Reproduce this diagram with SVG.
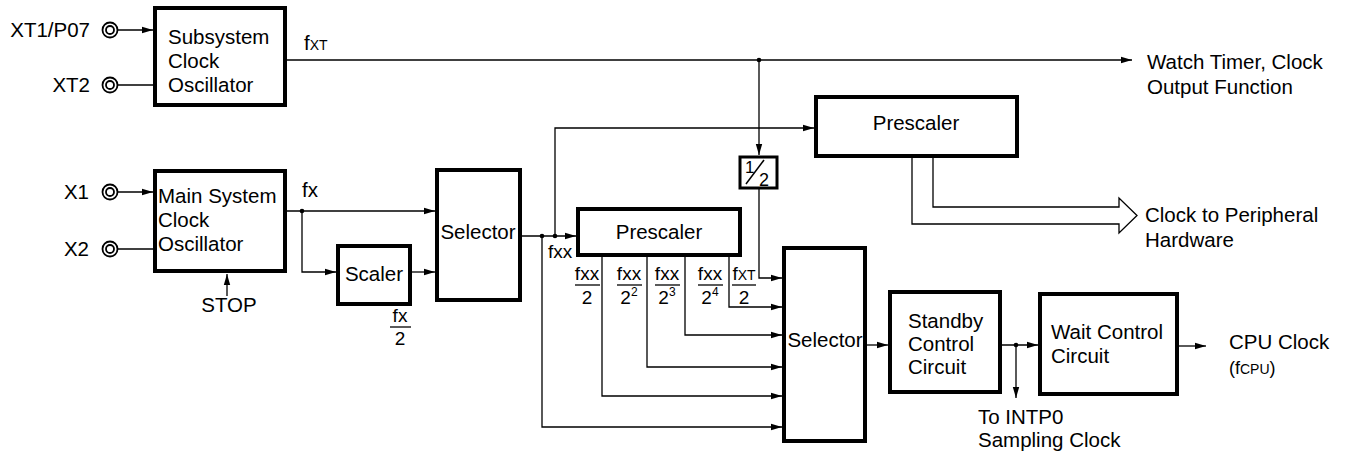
<svg xmlns="http://www.w3.org/2000/svg" width="1347" height="458" viewBox="0 0 1347 458">
<defs>
<marker id="ah" markerUnits="userSpaceOnUse" markerWidth="12" markerHeight="8" refX="11" refY="4" orient="auto">
<path d="M0,0.8 L11,4 L0,7.2 Z" fill="#000"/>
</marker>
<style>
text{font-family:"Liberation Sans",Arial,Helvetica,sans-serif;font-size:20.5px;fill:#000}
.box{fill:#fff;stroke:#000;stroke-width:4}
.ln{fill:none;stroke:#000;stroke-width:1.3}
.ar{marker-end:url(#ah)}
.pin{fill:#fff;stroke:#000;stroke-width:1.8}
.fr{font-size:19px}
.sm{font-size:14px}
.sup{font-size:12px}
.c{text-anchor:middle}
.r{text-anchor:end}
</style>
</defs>
<rect width="1347" height="458" fill="#fff"/>

<g id="pins">
<circle class="pin" cx="110" cy="30" r="7.5"/><circle class="pin" cx="110" cy="30" r="4"/>
<circle class="pin" cx="110" cy="85" r="7.5"/><circle class="pin" cx="110" cy="85" r="4"/>
<circle class="pin" cx="110" cy="192" r="7.5"/><circle class="pin" cx="110" cy="192" r="4"/>
<circle class="pin" cx="110" cy="249" r="7.5"/><circle class="pin" cx="110" cy="249" r="4"/>
<text class="r" x="90" y="37">XT1/P07</text>
<text class="r" x="90" y="92">XT2</text>
<text class="r" x="89" y="199">X1</text>
<text class="r" x="89" y="256">X2</text>
</g>

<g id="connectors">
<path class="ln ar" d="M118,30 H153"/>
<path class="ln" d="M118,85 H155"/>
<path class="ln ar" d="M118,192 H153"/>
<path class="ln" d="M118,249 H155"/>
<path class="ln ar" d="M227,296 V274"/>
<path class="ln ar" d="M287,60 H1132"/>
<path class="ln ar" d="M759,60 V155"/>
<path class="ln ar" d="M759,188 V278 H782"/>
<path class="ln ar" d="M287,211 H435"/>
<path class="ln ar" d="M302,211 V272 H336"/>
<path class="ln ar" d="M410,272 H435"/>
<path class="ln ar" d="M520,236 H576"/>
<path class="ln ar" d="M555,236 V128 H814"/>
<path class="ln ar" d="M542,236 V427 H782"/>
<path class="ln ar" d="M602,255 V396 H782"/>
<path class="ln ar" d="M647,255 V367 H782"/>
<path class="ln ar" d="M685,255 V335 H782"/>
<path class="ln ar" d="M729,255 V307 H782"/>
<path class="ln ar" d="M865,345 H888"/>
<path class="ln ar" d="M1000,345 H1038"/>
<path class="ln ar" d="M1016,345 V398"/>
<path class="ln ar" d="M1177,346 H1206"/>
<path class="ln" d="M912,156 V224 H1119 V233 L1137,215.5 L1119,198 V207 H933 V156"/>
<circle cx="759" cy="60" r="2.3"/>
<circle cx="302" cy="211" r="2.3"/>
<circle cx="542" cy="236" r="2.3"/>
<circle cx="555" cy="236" r="2.3"/>
<circle cx="1016" cy="345" r="2.3"/>
</g>

<g id="subsystem-osc">
<rect class="box" x="155" y="8" width="130" height="97"/>
<text x="168" y="44">Subsystem</text>
<text x="168" y="68">Clock</text>
<text x="168" y="92">Oscillator</text>
</g>

<g id="main-osc">
<rect class="box" x="155" y="171" width="130" height="100"/>
<text x="158" y="203">Main System</text>
<text x="158" y="227">Clock</text>
<text x="158" y="251">Oscillator</text>
</g>

<g id="scaler">
<rect class="box" x="338" y="246" width="72" height="58"/>
<text class="c" x="374" y="281">Scaler</text>
</g>

<g id="selector1">
<rect class="box" x="437" y="170" width="83" height="130"/>
<text class="c" x="478" y="239">Selector</text>
</g>

<g id="prescaler1">
<rect class="box" x="578" y="209" width="162" height="46"/>
<text class="c" x="659" y="239">Prescaler</text>
</g>

<g id="prescaler2">
<rect class="box" x="816" y="97" width="201" height="59"/>
<text class="c" x="916" y="130">Prescaler</text>
</g>

<g id="half">
<rect x="740" y="157" width="37" height="31" fill="#fff" stroke="#000" stroke-width="3"/>
<text x="745" y="173" style="font-size:17px">1</text>
<path d="M746,184 L764,160" stroke="#000" stroke-width="1.5"/>
<text x="759" y="186" style="font-size:18px">2</text>
</g>

<g id="selector2">
<rect class="box" x="784" y="248" width="81" height="193"/>
<text class="c" x="825" y="347">Selector</text>
</g>

<g id="standby">
<rect class="box" x="890" y="292" width="110" height="100"/>
<text x="908" y="328">Standby</text>
<text x="908" y="351">Control</text>
<text x="908" y="374">Circuit</text>
</g>

<g id="wait">
<rect class="box" x="1040" y="294" width="137" height="100"/>
<text x="1051" y="339">Wait Control</text>
<text x="1051" y="363">Circuit</text>
</g>

<g id="labels">
<text x="304" y="50">f<tspan class="sm">XT</tspan></text>
<text x="302" y="197">fx</text>
<text x="548" y="258" class="fr">fxx</text>
<text class="c" x="229" y="312">STOP</text>
<text class="c fr" x="400" y="322">fx</text>
<path class="ln" d="M390,327 H411"/>
<text class="c fr" x="400" y="345">2</text>
<text class="c fr" x="587" y="280">fxx</text>
<path class="ln" d="M575,285 H600"/>
<text class="c fr" x="587" y="304">2</text>
<text class="c fr" x="629" y="280">fxx</text>
<path class="ln" d="M617,285 H642"/>
<text class="c fr" x="629" y="304">2<tspan class="sup" dy="-8">2</tspan></text>
<text class="c fr" x="667" y="280">fxx</text>
<path class="ln" d="M655,285 H680"/>
<text class="c fr" x="667" y="304">2<tspan class="sup" dy="-8">3</tspan></text>
<text class="c fr" x="710" y="280">fxx</text>
<path class="ln" d="M698,285 H723"/>
<text class="c fr" x="710" y="304">2<tspan class="sup" dy="-8">4</tspan></text>
<text class="c fr" x="744" y="280">f<tspan class="sm">XT</tspan></text>
<path class="ln" d="M732,285 H756"/>
<text class="c fr" x="744" y="304">2</text>
<text x="1147" y="69">Watch Timer, Clock</text>
<text x="1147" y="94">Output Function</text>
<text x="1145" y="222">Clock to Peripheral</text>
<text x="1145" y="247">Hardware</text>
<text x="978" y="424">To INTP0</text>
<text x="978" y="447">Sampling Clock</text>
<text x="1229" y="349">CPU Clock</text>
<text x="1229" y="374" style="font-size:18px">(f<tspan class="sm">CPU</tspan>)</text>
</g>
</svg>
